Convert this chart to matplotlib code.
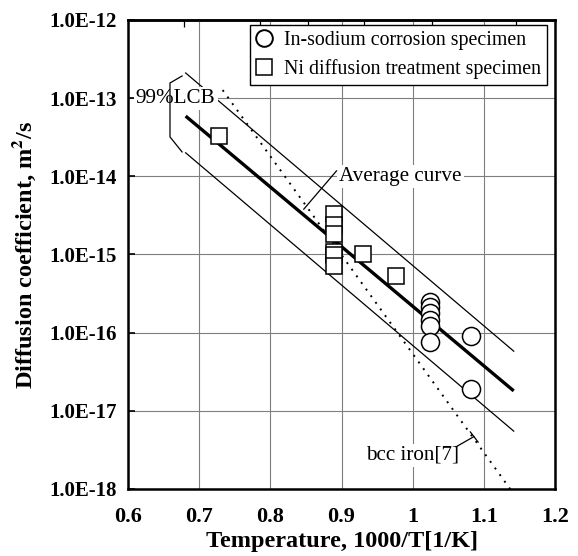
import numpy as np
import matplotlib
matplotlib.use("Agg")
import matplotlib.pyplot as plt
from matplotlib.lines import Line2D

plt.rcParams['font.family'] = ['Liberation Serif', 'DejaVu Serif']
plt.rcParams['mathtext.fontset'] = 'stix'

# In-sodium corrosion specimens (circles)
circ_x = [1.024, 1.024, 1.024, 1.024, 1.024, 1.024, 1.082, 1.082]
circ_D = [2.5e-16, 2.1e-16, 1.8e-16, 1.45e-16, 1.2e-16, 7.6e-17, 9.1e-17, 1.9e-17]

# Ni diffusion treatment specimens (squares)
sq_x = [0.728, 0.889, 0.889, 0.889, 0.889, 0.889, 0.889, 0.930, 0.976]
sq_D = [3.3e-14, 3.3e-15, 2.4e-15, 1.85e-15, 1.08e-15, 9.8e-16, 7.2e-16, 1.0e-15, 5.3e-16]

# average curve and 99% confidence band (end points)
fit_x = [0.681, 1.142]
avg_D = [5.9e-14, 1.8e-17]
upper_D = [2.1e-13, 5.8e-17]
lower_D = [2.0e-14, 5.5e-18]

# bcc iron literature line
bcc_x = [0.733, 1.141]
bcc_D = [1.27e-13, 8.9e-19]

# LCB bracket
brk_x = [0.676, 0.659, 0.659, 0.676]
brk_D = [10**-12.716, 10**-12.806, 10**-13.496, 10**-13.688]

x_ticks = [0.6, 0.7, 0.8, 0.9, 1.0, 1.1, 1.2]
x_labels = ['0.6', '0.7', '0.8', '0.9', '1', '1.1', '1.2']
y_ticks = [1e-18, 1e-17, 1e-16, 1e-15, 1e-14, 1e-13, 1e-12]
top_ticks_C = [600, 700, 800, 900, 1000, 1200]

fig = plt.figure(figsize=(5.78, 5.56), dpi=100)
ax = fig.add_axes([128/578, 1-489/556, 427/578, 469/556])
ax.set_yscale('log')
ax.set_xlim(0.6, 1.2)
ax.set_ylim(1e-18, 1e-12)

ax.grid(True, color='#7f7f7f', lw=0.8, zorder=0)
ax.minorticks_off()

ax.plot(fit_x, avg_D, color='black', lw=2.4, zorder=3, solid_capstyle='butt')
ax.plot(fit_x, upper_D, color='black', lw=0.9, zorder=3)
ax.plot(fit_x, lower_D, color='black', lw=0.9, zorder=3)
ax.plot(bcc_x, bcc_D, color='black', lw=1.4, ls=(0, (1, 3.2)), zorder=3, clip_on=False)
ax.plot(brk_x, brk_D, color='black', lw=0.9, zorder=6)

ax.plot(sq_x, sq_D, ls='none', marker='s', ms=12, mfc='white', mec='black', mew=1.1, zorder=4)
ax.plot(circ_x, circ_D, ls='none', marker='o', ms=13, mfc='white', mec='black', mew=1.1, zorder=4)

box = dict(facecolor='white', edgecolor='none', pad=1.5)
ax.text(0.667, 1e-13, '99%LCB', fontsize=15.2, ha='center', va='center', bbox=box, zorder=5)
ax.text(0.897, 1e-14, 'Average curve', fontsize=15.2, ha='left', va='center', bbox=box, zorder=5)
ax.plot([0.893, 0.847], [10**-13.93, 10**-14.42], color='black', lw=0.9, zorder=6)
ax.text(1.0, 10**-17.57, 'bcc iron[7]', fontsize=15.2, ha='center', va='center', bbox=box, zorder=5)
ax.plot([1.061, 1.086], [10**-17.46, 10**-17.33], color='black', lw=0.9, zorder=6)
ax.plot([1.081, 1.092], [10**-17.27, 10**-17.40], color='black', lw=0.9, zorder=6)

ax.set_xticks(x_ticks)
ax.set_xticklabels(x_labels, fontsize=16, fontweight='bold')
ax.set_yticks(y_ticks)
ax.set_yticklabels([f"{v:.1E}" for v in y_ticks], fontsize=15, fontweight='bold')
ax.tick_params(axis='x', length=0, pad=13)
ax.tick_params(axis='y', direction='in', length=5, width=1.2, pad=8)

top = ax.secondary_xaxis('top')
top.set_xticks([1000 / (t + 273.15) for t in top_ticks_C])
top.set_xticklabels([])
top.tick_params(direction='in', length=5, width=0.9)

for s in ax.spines.values():
    s.set_linewidth(1.8)
top.spines['top'].set_linewidth(1.8)

ax.set_xlabel('Temperature, 1000/T[1/K]', fontsize=17.5, fontweight='bold', labelpad=3)
ax.set_ylabel('Diffusion coefficient, m$^\\mathbf{2}$/s', fontsize=17.5, fontweight='bold', labelpad=8)

handles = [
    Line2D([], [], ls='none', marker='o', ms=12, mfc='white', mec='black', mew=1.4),
    Line2D([], [], ls='none', marker='s', ms=11, mfc='white', mec='black', mew=1.1),
]
leg = ax.legend(handles, ['In-sodium corrosion specimen', 'Ni diffusion treatment specimen'],
                loc='upper right', bbox_to_anchor=(0.981, 0.989), fontsize=14.3,
                frameon=True, fancybox=False, framealpha=1, edgecolor='black',
                borderaxespad=0, handletextpad=0.6, borderpad=0.3, labelspacing=0.45,
                handlelength=0.8)
leg.get_frame().set_linewidth(1.0)
leg.set_zorder(7)

fig.savefig('out.png', dpi=100)
